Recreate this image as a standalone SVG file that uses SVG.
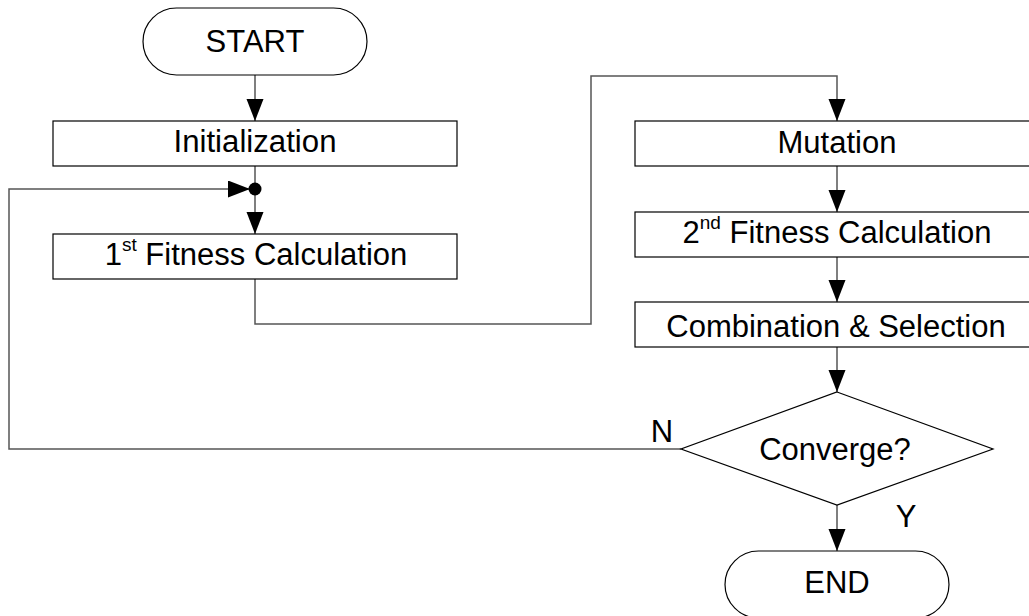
<svg xmlns="http://www.w3.org/2000/svg" width="1029" height="616" viewBox="0 0 1029 616">
<style>
.box{fill:#fff;stroke:#000;stroke-width:1.2}
.t{font-family:"Liberation Sans",Arial,sans-serif;font-size:31px;fill:#000;text-anchor:middle}
.c{fill:none;stroke:#555;stroke-width:1.5}
</style>
<defs>
<marker id="ah" markerUnits="userSpaceOnUse" markerWidth="22" markerHeight="18" refX="22" refY="8.5" orient="auto">
<path d="M0,0 L22,8.5 L0,17 Z" fill="#000"/>
</marker>
</defs>
<rect width="1029" height="616" fill="#fff"/>
<g id="connectors">
<line class="c" x1="255" y1="75" x2="255" y2="121" marker-end="url(#ah)"/>
<line class="c" x1="255" y1="166" x2="255" y2="189"/>
<line class="c" x1="255" y1="189" x2="255" y2="234" marker-end="url(#ah)"/>
<polyline class="c" points="681,449 9,449 9,189 250,189" marker-end="url(#ah)"/>
<polyline class="c" points="255,279 255,324 591,324 591,76 837,76 837,121" marker-end="url(#ah)"/>
<line class="c" x1="837" y1="166" x2="837" y2="212" marker-end="url(#ah)"/>
<line class="c" x1="837" y1="257" x2="837" y2="302" marker-end="url(#ah)"/>
<line class="c" x1="837" y1="347" x2="837" y2="392" marker-end="url(#ah)"/>
<line class="c" x1="837" y1="505" x2="837" y2="551" marker-end="url(#ah)"/>
<circle cx="255" cy="189" r="6.5" fill="#000"/>
<text class="t" x="662" y="442">N</text>
<text class="t" x="906" y="527">Y</text>
</g>
<g id="start">
<rect class="box" x="143" y="8" width="224" height="67" rx="33.5" ry="33.5"/>
<text class="t" x="255" y="52">START</text>
</g>
<g id="init">
<rect class="box" x="53" y="121" width="404" height="45"/>
<text class="t" x="255" y="152" textLength="163" lengthAdjust="spacingAndGlyphs">Initialization</text>
</g>
<g id="fitness1">
<rect class="box" x="53" y="234" width="404" height="45"/>
<text class="t" x="256" y="265">1<tspan font-size="19" dy="-14">st</tspan><tspan dy="14"> Fitness Calculation</tspan></text>
</g>
<g id="mutation">
<rect class="box" x="635" y="121" width="404" height="45"/>
<text class="t" x="837" y="153">Mutation</text>
</g>
<g id="fitness2">
<rect class="box" x="635" y="212" width="404" height="45"/>
<text class="t" x="837" y="243">2<tspan font-size="19" dy="-14">nd</tspan><tspan dy="14"> Fitness Calculation</tspan></text>
</g>
<g id="combination">
<rect class="box" x="635" y="302" width="404" height="45"/>
<text class="t" x="836" y="337">Combination &amp; Selection</text>
</g>
<g id="converge">
<polygon class="box" points="837,392 993,449 837,505 681,449"/>
<text class="t" x="835" y="460">Converge?</text>
</g>
<g id="end">
<rect class="box" x="725" y="551" width="224" height="67" rx="33.5" ry="33.5"/>
<text class="t" x="837" y="593">END</text>
</g>
</svg>
